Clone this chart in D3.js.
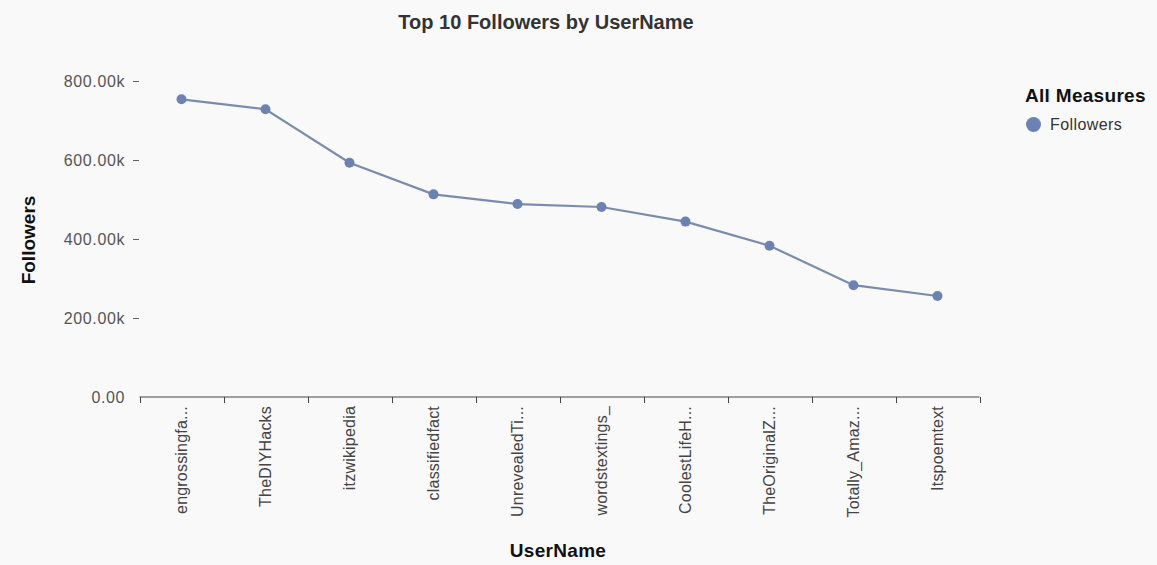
<!DOCTYPE html>
<html><head><meta charset="utf-8">
<script src="https://cdn.jsdelivr.net/npm/d3@7"></script>
<style>
html,body{margin:0;padding:0;background:#f9f9f9;}
svg{display:block;font-family:Arial,"Liberation Sans",sans-serif;}
</style></head>
<body>
<svg id="chart" width="1157" height="565"></svg>
<script>
const categories = ["engrossingfa...","TheDIYHacks","itzwikipedia","classifiedfact","UnrevealedTi...","wordstextings_","CoolestLifeH...","TheOriginalZ...","Totally_Amaz...","Itspoemtext"];
const followers = [753700, 728500, 593000, 513000, 488500, 481000, 444000, 383000, 283000, 255700];
const yTicks = [0, 200000, 400000, 600000, 800000];
const seriesName = "Followers";

const FONT = "Arial, 'Liberation Sans', sans-serif";
const svg = d3.select("#chart");
svg.append("rect").attr("width",1157).attr("height",565).attr("fill","#f9f9f9");

const x = d3.scaleBand().domain(categories).range([139.5, 979.5]);
const y = d3.scaleLinear().domain([0, 800000]).range([397, 81]);

const fmt = v => v === 0 ? "0.00" : (v/1000).toFixed(2) + "k";

// Y axis
const yAxis = svg.append("g").attr("transform","translate(140,0)")
  .call(d3.axisLeft(y).tickValues(yTicks).tickFormat(fmt).tickSize(0).tickPadding(15));
yAxis.select(".domain").remove();
yAxis.selectAll("text").attr("fill","#555").style("font-size","16px").style("letter-spacing","0.6px").style("font-family",FONT);
yAxis.selectAll(".tick").filter(d => d !== 0).append("line")
  .attr("x1",-7).attr("x2",-1).attr("stroke","#666").attr("stroke-width",1);

// X axis
const xAxis = svg.append("g").attr("transform","translate(0,397)")
  .call(d3.axisBottom(x).tickSize(0));
xAxis.select(".domain").attr("d","M139.5,0H979.5").attr("stroke","#444");
xAxis.selectAll(".tick text")
  .attr("transform","rotate(-90)")
  .attr("text-anchor","end")
  .attr("x",-9).attr("y",0).attr("dy","0.35em")
  .attr("fill","#444").style("font-size","16px").style("letter-spacing","0.2px").style("font-family",FONT);
// band boundary ticks
const bounds = categories.map(c => x(c)).concat([x.range()[1]]);
xAxis.selectAll(".btick").data(bounds).join("line").attr("class","btick")
  .attr("x1",d=>Math.round(d)+0.5).attr("x2",d=>Math.round(d)+0.5).attr("y1",0).attr("y2",6)
  .attr("stroke","#444").attr("stroke-width",1);

// Line
const cx = d => x(d) + x.bandwidth()/2;
const line = d3.line().x((d,i)=>cx(categories[i])).y(d=>y(d));
svg.append("path").datum(followers).attr("d",line)
  .attr("fill","none").attr("stroke","#7a8cae").attr("stroke-width",2.2);
svg.selectAll(".pt").data(followers).join("circle").attr("class","pt")
  .attr("cx",(d,i)=>cx(categories[i])).attr("cy",d=>y(d)).attr("r",5)
  .attr("fill","#6b83b3");

// Titles
svg.append("text").attr("x",546).attr("y",29).attr("text-anchor","middle")
  .attr("font-weight","bold").attr("font-size","20px").attr("fill","#333").text("Top 10 Followers by UserName");
svg.append("text").attr("transform","translate(35,240) rotate(-90)").attr("text-anchor","middle")
  .attr("font-weight","bold").attr("font-size","19px").attr("fill","#111").text(seriesName);
svg.append("text").attr("x",558).attr("y",557).attr("text-anchor","middle")
  .attr("font-weight","bold").attr("font-size","19px").style("letter-spacing","0.3px").attr("fill","#111").text("UserName");

// Legend
svg.append("text").attr("x",1025).attr("y",102)
  .attr("font-weight","bold").attr("font-size","19px").style("letter-spacing","0.3px").attr("fill","#111").text("All Measures");
svg.append("circle").attr("cx",1033.5).attr("cy",124.5).attr("r",7.5).attr("fill","#6b83b3");
svg.append("text").attr("x",1050).attr("y",130)
  .attr("font-size","16px").style("letter-spacing","0.4px").attr("fill","#333").text(seriesName);
</script>
</body></html>
